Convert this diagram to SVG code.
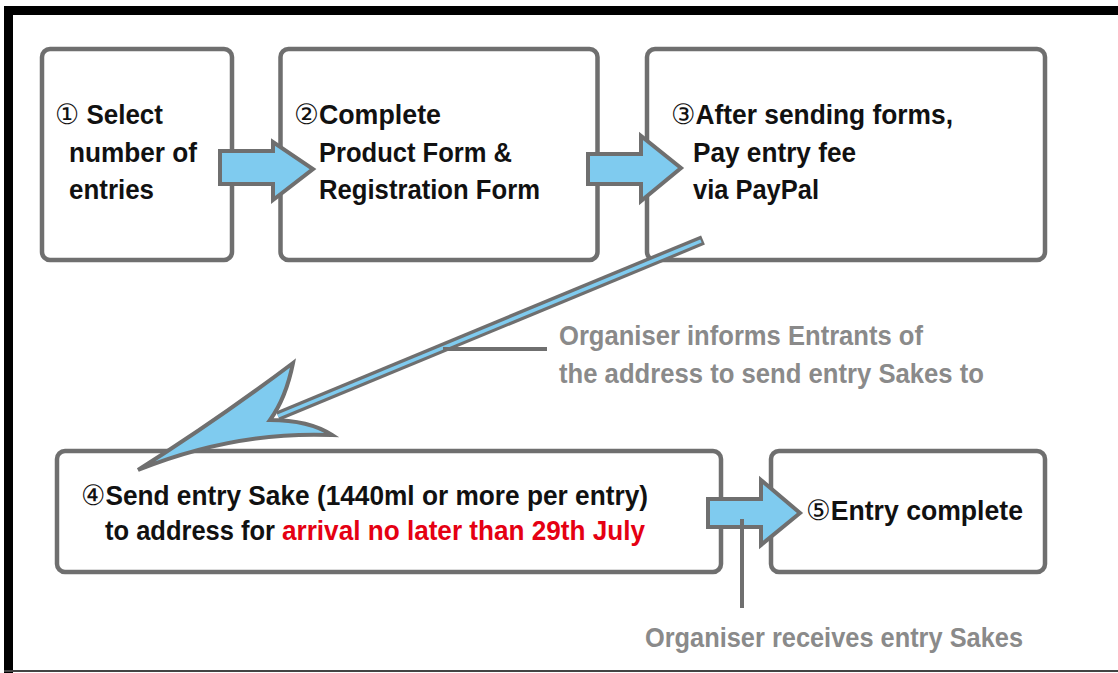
<svg xmlns="http://www.w3.org/2000/svg" width="1118" height="673" viewBox="0 0 1118 673">
<style>
.box{fill:#fff;stroke:#6f6f6f;stroke-width:4.5}
.blk{fill:#7fcbef;stroke:#6f6f6f;stroke-width:4;stroke-linejoin:miter}
.t{font-family:"Liberation Sans","DejaVu Sans",sans-serif;font-weight:bold;font-size:27px;fill:#111}
.g{font-family:"Liberation Sans","DejaVu Sans",sans-serif;font-weight:bold;font-size:27px;fill:#8a8a8a}
.r{fill:#e50012}
.num{font-family:"DejaVu Sans",sans-serif;font-weight:normal;font-size:28px}
.lead{stroke:#6f6f6f;stroke-width:4;fill:none}
</style>
<rect x="0" y="0" width="1118" height="673" fill="#fff"/>
<g id="frame">
<rect x="4" y="6" width="1114" height="9" fill="#000"/>
<rect x="4" y="6" width="9" height="667" fill="#000"/>
<rect x="4" y="670" width="1114" height="2" fill="#444"/>
</g>
<g id="box1">
<rect class="box" x="42" y="49" width="190" height="211" rx="8"/>
<text class="t" x="55" y="124" textLength="108" lengthAdjust="spacingAndGlyphs"><tspan class="num">①</tspan> Select</text>
<text class="t" x="69" y="162" textLength="128" lengthAdjust="spacingAndGlyphs">number of</text>
<text class="t" x="69" y="199" textLength="85" lengthAdjust="spacingAndGlyphs">entries</text>
</g>
<g id="box2">
<rect class="box" x="280.5" y="49" width="317" height="211" rx="8"/>
<text class="t" x="294" y="124" textLength="147" lengthAdjust="spacingAndGlyphs"><tspan class="num">②</tspan>Complete</text>
<text class="t" x="319" y="162" textLength="193" lengthAdjust="spacingAndGlyphs">Product Form &amp;</text>
<text class="t" x="319" y="199" textLength="221" lengthAdjust="spacingAndGlyphs">Registration Form</text>
</g>
<g id="box3">
<rect class="box" x="647" y="49" width="398" height="211" rx="8"/>
<text class="t" x="671" y="124" textLength="282" lengthAdjust="spacingAndGlyphs"><tspan class="num">③</tspan>After sending forms,</text>
<text class="t" x="693" y="162" textLength="163" lengthAdjust="spacingAndGlyphs">Pay entry fee</text>
<text class="t" x="693" y="199" textLength="126" lengthAdjust="spacingAndGlyphs">via PayPal</text>
</g>
<g id="box4">
<rect class="box" x="57" y="451" width="664" height="121" rx="8"/>
<text class="t" x="81" y="505" textLength="567" lengthAdjust="spacingAndGlyphs"><tspan class="num">④</tspan>Send entry Sake (1440ml or more per entry)</text>
<text class="t" x="105" y="540" textLength="170" lengthAdjust="spacingAndGlyphs">to address for</text>
<text class="t r" x="282" y="540" textLength="363" lengthAdjust="spacingAndGlyphs">arrival no later than 29th July</text>
</g>
<g id="box5">
<rect class="box" x="771" y="451" width="274" height="121" rx="8"/>
<text class="t" x="806" y="520" textLength="217" lengthAdjust="spacingAndGlyphs"><tspan class="num">⑤</tspan>Entry complete</text>
</g>
<g id="connectors">
<polygon class="blk" points="220,151 273,151 273,142 313,169 273,200 273,184 220,184"/>
<polygon class="blk" points="588,154 641,154 641,136 681,168 641,201 641,184 588,184"/>
<line x1="703" y1="240" x2="278" y2="416" stroke="#6f6f6f" stroke-width="10"/>
<line x1="701" y1="241" x2="278" y2="416" stroke="#7fcbef" stroke-width="3.5"/>
<path class="blk" d="M138,470 Q216,421 293,363 Q286,398 270,420 Q309,420 332,435 Q235,431 138,470 Z"/>
<line class="lead" x1="443" y1="349" x2="547" y2="349"/>
<polygon class="blk" points="708,499 761,499 761,480 800,513 761,545 761,527 708,527"/>
<line class="lead" x1="742" y1="519" x2="742" y2="608"/>
</g>
<g id="labels">
<text class="g" x="559" y="345" textLength="364" lengthAdjust="spacingAndGlyphs">Organiser informs Entrants of</text>
<text class="g" x="559" y="383" textLength="425" lengthAdjust="spacingAndGlyphs">the address to send entry Sakes to</text>
<text class="g" x="645" y="647" textLength="378" lengthAdjust="spacingAndGlyphs">Organiser receives entry Sakes</text>
</g>
</svg>
